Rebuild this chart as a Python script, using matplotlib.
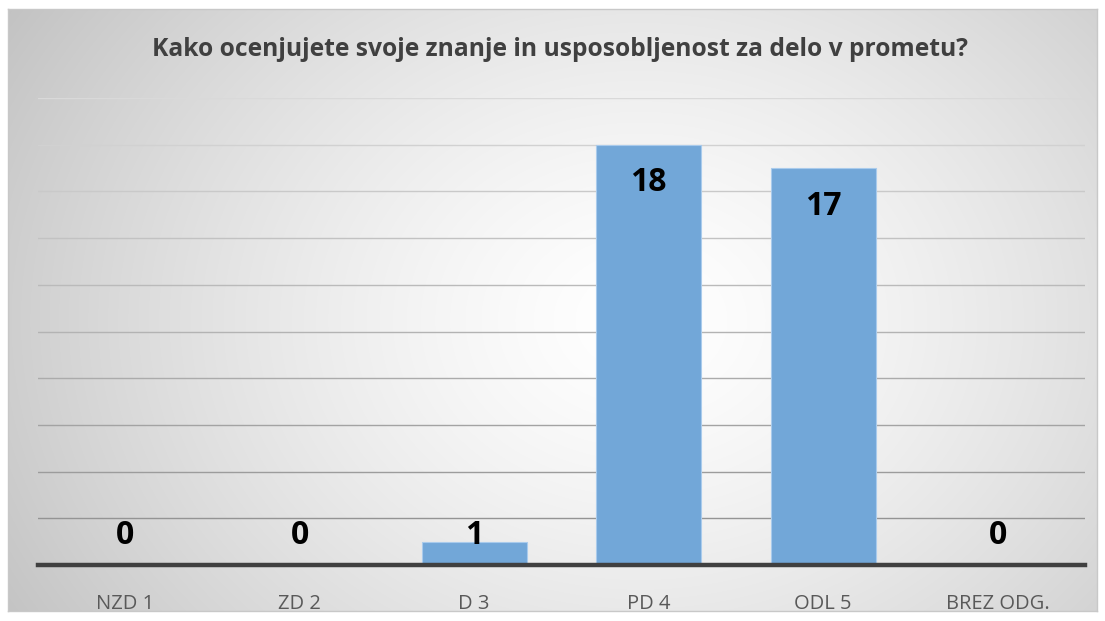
import numpy as np
import matplotlib
matplotlib.use("Agg")
import matplotlib.pyplot as plt

categories = ["NZD 1", "ZD 2", "D 3", "PD 4", "ODL 5", "BREZ ODG."]
values = [0, 0, 1, 18, 17, 0]
title = "Kako ocenjujete svoje znanje in usposobljenost za delo v prometu?"

plt.rcParams['font.family'] = ['Open Sans', 'DejaVu Sans']

W, H = 1105, 621
fig = plt.figure(figsize=(W / 100, H / 100), dpi=100)
fig.patch.set_facecolor("white")

# background radial gradient panel
bx0, by0, bx1, by1 = 8, 9, 1097, 611
bg = fig.add_axes([bx0 / W, 1 - by1 / H, (bx1 - bx0) / W, (by1 - by0) / H])
yy, xx = np.mgrid[by0:by1, bx0:bx1]
cx, cy = 640, 320
d = np.sqrt((xx - cx) ** 2 + ((yy - cy) * 1.25) ** 2) / 680.0
g = 1.0 - 0.21 * np.clip(d, 0, 1.2) ** 1.4
img = np.dstack([g, g, g])
bg.imshow(img, aspect="auto", extent=[0, 1, 0, 1], interpolation="bilinear")
bg.set_xticks([])
bg.set_yticks([])
for s in bg.spines.values():
    s.set_color("#c8c8c8")
    s.set_linewidth(1.0)
bg.set_zorder(-5)

# main axes
left, right = 38, 1085
base_y, top_y = 565, 98
ax = fig.add_axes([left / W, 1 - base_y / H, (right - left) / W, (base_y - top_y) / H])
ax.patch.set_alpha(0)
x = np.arange(len(categories))
ax.bar(x, values, width=0.6, color="#72a7d8", edgecolor="#a9cbec", linewidth=0.8, zorder=3)
ax.set_xlim(-0.5, len(categories) - 0.5)
ax.set_ylim(0, 20)
ax.set_yticks(np.arange(0, 21, 2))
ax.yaxis.grid(True, zorder=0)
ax.set_axisbelow(True)
gl = ax.yaxis.get_gridlines()
n = len(gl)
for i, line in enumerate(gl):
    t = i / (n - 1)
    c = 0.55 + 0.30 * t
    line.set_color((c, c, c))
    line.set_linewidth(1.0)
ax.tick_params(axis="y", left=False, labelleft=False)
ax.tick_params(axis="x", bottom=False, length=0, pad=21, labelsize=14.5, labelcolor="#595959")
ax.set_xticks(x)
ax.set_xticklabels(categories)
for s in ["top", "right", "left"]:
    ax.spines[s].set_visible(False)
ax.spines["bottom"].set_color("#404040")
ax.spines["bottom"].set_linewidth(3.2)
ax.spines["bottom"].set_zorder(4)

for xi, v in zip(x, values):
    if v >= 5:
        ax.annotate(str(v), (xi, v), xytext=(0, -27.5), textcoords="offset points",
                    ha="center", va="center", fontsize=23, fontweight="bold", color="black", zorder=5)
    else:
        ax.annotate(str(v), (xi, 0), xytext=(0, 21), textcoords="offset points",
                    ha="center", va="center", fontsize=23, fontweight="bold", color="black", zorder=5)

fig.text(560 / W, 1 - 50 / H, title, ha="center", va="center", fontsize=17.7,
         fontweight="bold", color="#404040")

fig.savefig("out.png", dpi=100)
